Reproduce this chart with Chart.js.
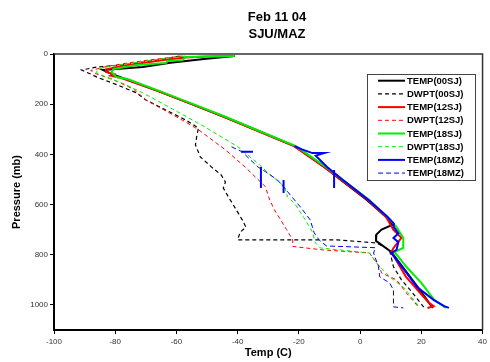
<!DOCTYPE html>
<html>
<head>
<meta charset="utf-8">
<script src="https://cdn.jsdelivr.net/npm/chart.js@4/dist/chart.umd.min.js"></script>
<style>
  html, body { margin:0; padding:0; background:#fff; }
  #wrap { width:490px; height:362px; position:relative; }
</style>
</head>
<body>
<div id="wrap"><canvas id="skewt"></canvas></div>
<script>
// ---- data (pressure mb / temperature C) ----
const titleLines = ['Feb 11 04', 'SJU/MAZ'];
const xTicks = [-100, -80, -60, -40, -20, 0, 20, 40];
const yTicks = [0, 200, 400, 600, 800, 1000];

const seriesNames = ['TEMP(00SJ)', 'DWPT(00SJ)', 'TEMP(12SJ)', 'DWPT(12SJ)',
                     'TEMP(18SJ)', 'DWPT(18SJ)', 'TEMP(18MZ)', 'TEMP(18MZ)'];

const pTemp00 = [8, 20, 35, 52, 64, 80, 92, 100, 150, 200, 250, 300, 367, 400, 450, 500, 582, 650, 681, 700, 720, 745, 789, 850, 925, 1000, 1012];
const tTemp00 = [-41, -51, -62, -71, -84, -81, -78.3, -76.5, -65.5, -55, -44.5, -34.5, -21.4, -17.5, -11.7, -6.5, 2.2, 8.5, 10.5, 7, 5.3, 5.2, 10.2, 14, 18.6, 23, 23.8];

const pDwpt00 = [8, 20, 35, 44, 52, 64, 80, 92, 120, 155, 183, 223, 263, 295, 330, 362, 410, 450, 482, 510, 534, 570, 620, 661, 690, 710, 741, 741, 753, 781, 848, 900, 950, 1012];
const tDwpt00 = [-59, -64, -72, -78, -86, -91, -88, -86, -80, -73, -70, -63.5, -57, -52.8, -53.4, -53.8, -52.2, -48.6, -45.4, -44, -44.7, -43, -40.5, -38.5, -37.3, -39.2, -40, -7.5, 5.4, 9.6, 10.9, 13.5, 17, 21];

const pTemp12 = [8, 10, 14, 22, 34, 48, 62, 72, 80, 86, 96, 150, 200, 250, 300, 367, 450, 500, 582, 650, 701, 733, 773, 789, 888, 992, 1005, 1012];
const tTemp12 = [-41, -50, -57, -63, -70, -78, -83, -83, -80.5, -81.5, -78, -65.5, -55, -44.5, -34.8, -21.6, -11.8, -6.3, 2.5, 8.5, 10.9, 13.5, 10.9, 10.2, 15, 22.5, 24, 22];

const pDwpt12 = [8, 15, 24, 36, 50, 66, 80, 100, 140, 183, 255, 300, 382, 450, 528, 582, 621, 700, 741, 767, 781, 793, 848, 873, 900, 952, 1012];
const tDwpt12 = [-58, -63, -69, -76, -83, -88, -86, -81, -74, -70, -59.3, -53, -44, -37.6, -31, -29.5, -28, -24, -22, -22, -12, 3, 6.4, 7, 11.9, 15.1, 19.3];

const pTemp18 = [8, 12, 24, 28, 36, 44, 60, 72, 92, 100, 150, 200, 250, 300, 367, 450, 500, 582, 650, 690, 733, 773, 789, 813, 848, 912, 980, 1012];
const tTemp18 = [-41, -57, -58, -62.8, -63.5, -73, -80.6, -81.2, -79.6, -76, -65, -54.5, -44, -34.3, -21, -11.2, -5.8, 3, 9, 11.9, 14.1, 14.1, 11.2, 12.8, 15.1, 20, 24.2, 28];

const pDwpt18 = [8, 14, 22, 35, 50, 62, 76, 92, 120, 155, 183, 283, 370, 442, 475, 528, 570, 595, 661, 709, 753, 773, 793, 833, 888, 932, 1008];
const tDwpt18 = [-57, -61, -67, -74, -82, -86, -86, -83, -77, -71, -66.7, -51.8, -39.9, -32.8, -30, -24.7, -23.7, -21.4, -17.9, -15.6, -14.6, -13, 3.1, 5.4, 9.6, 14.4, 19.3];

const pTempMZ = [367, 380, 395, 395, 405, 450, 500, 582, 650, 674, 690, 715, 733, 750, 781, 793, 850, 928, 980, 1005, 1012, null, 462, 534, null, 450, 534, null, 502, 554, null, 390, 390];
const tTempMZ = [-21.4, -19, -15.6, -11.7, -14.5, -10.8, -5.8, 2.8, 9, 10.9, 11, 12.5, 10.9, 12.5, 11.9, 10.2, 13.8, 18.5, 24, 27.5, 29, null, -8.5, -8.5, null, -32.4, -32.4, null, -25, -25, null, -38.9, -35];

const pDwptMZ = [370, 390, 420, 450, 470, 502, 534, 610, 661, 713, 741, 765, 772, 793, 848, 888, 912, 940, 1008, 1012];
const tDwptMZ = [-42, -38.5, -36, -33.4, -30.8, -27, -24.7, -19.5, -16.3, -15, -13.4, -11, 5, 4.4, 6, 6.4, 9.6, 10.9, 10.9, 14.1];

// ---- build ----
function pts(p, t) {
  return p.map((v, i) => ({ x: t[i], y: v }));
}

const styles = [
  { color:'#000000', width:2, dash:[] },
  { color:'#000000', width:1.2, dash:[4,3] },
  { color:'#ff0000', width:2, dash:[] },
  { color:'#ff0000', width:1, dash:[4,3] },
  { color:'#00ee00', width:2, dash:[] },
  { color:'#00ee00', width:1, dash:[4,3] },
  { color:'#0000ff', width:2, dash:[] },
  { color:'#0000ff', width:1, dash:[5,3] }
];
const seriesData = [
  pts(pTemp00, tTemp00), pts(pDwpt00, tDwpt00),
  pts(pTemp12, tTemp12), pts(pDwpt12, tDwpt12),
  pts(pTemp18, tTemp18), pts(pDwpt18, tDwpt18),
  pts(pTempMZ, tTempMZ), pts(pDwptMZ, tDwptMZ)
];

const datasets = seriesData.map((d, i) => ({
  label: seriesNames[i],
  data: d,
  showLine: true,
  borderColor: styles[i].color,
  backgroundColor: styles[i].color,
  borderWidth: styles[i].width,
  borderDash: styles[i].dash,
  pointRadius: 0,
  spanGaps: false,
  order: seriesNames.length - 1 - i
}));

const FONT = '"Liberation Sans", Arial, sans-serif';

// titles, axis titles, frame and boxed legend
const decor = {
  id: 'decor',
  afterDatasetsDraw(chart) {
    const ctx = chart.ctx, a = chart.chartArea;
    ctx.save();
    // frame top/right
    ctx.strokeStyle = '#333';
    ctx.lineWidth = 1.5;
    ctx.beginPath();
    ctx.moveTo(a.left, a.top); ctx.lineTo(a.right, a.top); ctx.lineTo(a.right, a.bottom);
    ctx.stroke();

    ctx.fillStyle = '#000';
    ctx.textAlign = 'center';
    ctx.textBaseline = 'middle';
    ctx.font = 'bold 13px ' + FONT;
    ctx.fillText(titleLines[0], 277, 17);
    ctx.fillText(titleLines[1], 277, 34);

    ctx.font = 'bold 11px ' + FONT;
    ctx.fillText('Temp (C)', (a.left + a.right) / 2, 353);
    ctx.save();
    ctx.translate(17, (a.top + a.bottom) / 2);
    ctx.rotate(-Math.PI / 2);
    ctx.fillText('Pressure (mb)', 0, 0);
    ctx.restore();

    // legend
    const lx = 367, ly = 74, lw = 108, lh = 106;
    ctx.fillStyle = '#fff';
    ctx.fillRect(lx, ly, lw, lh);
    ctx.strokeStyle = '#444';
    ctx.lineWidth = 1;
    ctx.strokeRect(lx + 0.5, ly + 0.5, lw, lh);
    ctx.font = 'bold 9.5px ' + FONT;
    ctx.textAlign = 'left';
    seriesNames.forEach((name, i) => {
      const y = 80.7 + i * 13.2;
      ctx.strokeStyle = styles[i].color;
      ctx.lineWidth = styles[i].width;
      ctx.setLineDash(styles[i].dash);
      ctx.beginPath();
      ctx.moveTo(378, y); ctx.lineTo(405, y);
      ctx.stroke();
      ctx.setLineDash([]);
      ctx.fillStyle = '#000';
      ctx.fillText(name, 407, y + 0.5);
    });
    ctx.restore();
  }
};

new Chart(document.getElementById('skewt'), {
  type: 'scatter',
  data: { datasets },
  plugins: [decor],
  options: {
    responsive: true,
    maintainAspectRatio: false,
    animation: false,
    layout: { padding: { top: 54, right: 3, left: 0, bottom: 0 } },
    plugins: { legend: { display: false }, title: { display: false }, tooltip: { enabled: false } },
    scales: {
      x: {
        type: 'linear', min: -100, max: 40,
        afterBuildTicks: s => { s.ticks = xTicks.map(v => ({ value: v })); },
        afterFit: s => { s.height = 32; },
        grid: { drawOnChartArea: false, drawTicks: true, tickLength: 4, tickColor: '#000', tickWidth: 1 },
        border: { display: true, color: '#000', width: 2 },
        ticks: { color: '#333', padding: 3, maxRotation: 0, font: { size: 8, family: FONT }, callback: v => String(v) }
      },
      y: {
        type: 'linear', min: 0, max: 1100, reverse: true,
        afterBuildTicks: s => { s.ticks = yTicks.map(v => ({ value: v })); },
        afterFit: s => { s.width = 54; },
        grid: { drawOnChartArea: false, drawTicks: true, tickLength: 4, tickColor: '#000', tickWidth: 1 },
        border: { display: true, color: '#000', width: 2 },
        ticks: { color: '#333', padding: 2, font: { size: 8, family: FONT }, callback: v => String(v) }
      }
    }
  }
});
</script>
</body>
</html>
